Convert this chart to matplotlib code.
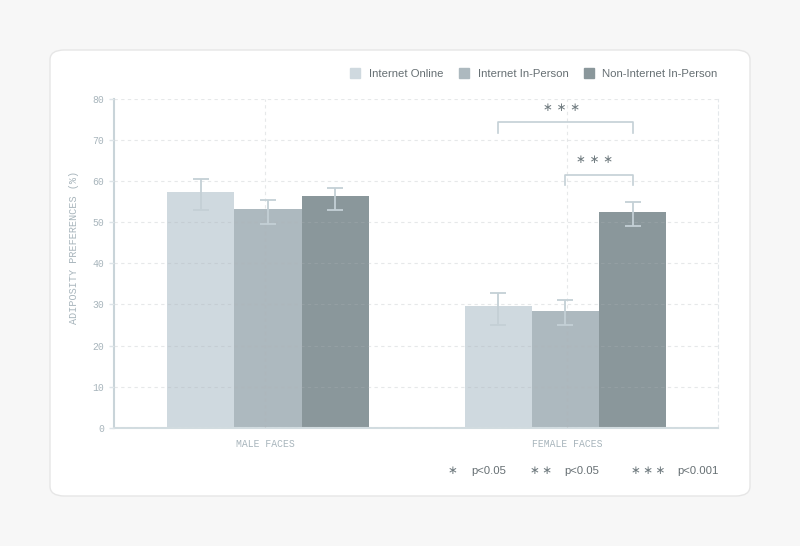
import matplotlib.pyplot as plt
import numpy as np
from matplotlib.patches import FancyBboxPatch
from matplotlib.lines import Line2D

groups = ["MALE FACES", "FEMALE FACES"]
series = ["Internet Online", "Internet In-Person", "Non-Internet In-Person"]
means = [
    [57.4, 29.5],
    [53.3, 28.5],
    [56.5, 52.6],
]
err_lo = [
    [53.1, 24.9],
    [49.5, 25.1],
    [52.9, 49.0],
]
err_hi = [
    [60.5, 32.7],
    [55.3, 31.2],
    [58.3, 55.0],
]
colors = ["#cfd9df", "#adb9bf", "#8a979b"]

# significance brackets: (group, series a, series b, height, label)
brackets = [
    (1, 0, 2, 74.3, "∗ ∗ ∗"),
    (1, 1, 2, 61.6, "∗ ∗ ∗"),
]
sig_notes = [("∗", "p<0.05"), ("∗\u2009∗", "p<0.05"), ("∗\u2009∗\u2009∗", "p<0.001")]

mono = "Liberation Mono"
sans = "Liberation Sans"
axis_col = "#c9d4d9"
tick_col = "#a8b5bc"
star_col = "#6f7a7f"

fig = plt.figure(figsize=(8, 5.46), dpi=100)
fig.patch.set_facecolor("#f7f7f7")
card = FancyBboxPatch((50 / 800, 1 - 496 / 546), 700 / 800, 446 / 546,
                      boxstyle="round,pad=0,rounding_size=0.018",
                      transform=fig.transFigure, facecolor="white",
                      edgecolor="#e6e6e6", linewidth=1.0, zorder=-10)
fig.patches.append(card)

ax = fig.add_axes([114 / 800, 1 - 427.7 / 546, 604 / 800, 328.7 / 546])
ax.set_facecolor("none")
ax.set_zorder(1)

x = np.arange(len(groups))
width = 0.222
shift = [0.01, -0.005]  # bars sit a touch off the category grid line
for i, name in enumerate(series):
    xs = x + np.array(shift) + (i - 1) * width
    m = np.array(means[i])
    lo = m - np.array(err_lo[i])
    hi = np.array(err_hi[i]) - m
    ax.bar(xs, m, width=width, color=colors[i], label=name, zorder=2)
    ax.errorbar(xs, m, yerr=[lo, hi], fmt="none", ecolor="#c4d0d6",
                elinewidth=1.3, capsize=5.5, capthick=1.3, zorder=3)

for g, a, b, h, lab in brackets:
    xa = g + shift[g] + (a - 1) * width
    xb = g + shift[g] + (b - 1) * width
    ax.plot([xa, xa, xb, xb], [h - 2.6, h, h, h - 2.6], color="#c4d0d6",
            lw=1.2, zorder=3, clip_on=False)
    ax.text((xa + xb) / 2 - 0.014, h + 3.6, lab, ha="center", va="center",
            fontsize=8.5, color=star_col, family="DejaVu Sans")

ax.set_xlim(-0.5, 1.5)
ax.set_ylim(0, 80)
ax.set_yticks(np.arange(0, 81, 10))
ax.set_xticks(x)
ax.set_xticklabels(groups, family=mono, fontsize=7, color=tick_col)
ax.tick_params(axis="x", length=0, pad=8)
ax.tick_params(axis="y", length=3.6, width=1, color="#dde4e8", labelsize=7,
               labelcolor=tick_col, pad=3.5)
for lbl in ax.get_yticklabels():
    lbl.set_family(mono)

ax.grid(True, color="#aeb4b8", alpha=0.3, linestyle=(0, (3, 3)),
        linewidth=0.8, zorder=4)
ax.set_axisbelow(False)
ax.spines["top"].set_visible(False)
ax.spines["right"].set_color("#e4e8eb")
ax.spines["right"].set_linestyle((0, (3, 3)))
ax.spines["right"].set_linewidth(0.8)
ax.spines["left"].set_color(axis_col)
ax.spines["left"].set_linewidth(1.5)
ax.spines["bottom"].set_color("#d2dce0")
ax.spines["bottom"].set_linewidth(1.5)

ax.set_ylabel("ADIPOSITY PREFERENCES (%)", family=mono, fontsize=7.3,
              color=tick_col)
ax.yaxis.set_label_coords(-0.058, 0.547)

handles = [Line2D([], [], marker="s", linestyle="none", markersize=7,
                  markerfacecolor=c, markeredgecolor=c) for c in colors]
fig.legend(handles, series, loc="center right", ncol=3, frameon=False,
           bbox_to_anchor=(728 / 800, 1 - 74 / 546), prop={"family": sans, "size": 8.2},
           labelcolor="#666f73", handletextpad=0.7, columnspacing=1.3,
           handlelength=1.0)

# significance key under the chart
star_end = [457, 552, 665]
text_x = [471, 564, 677]
for (st, lab), sx, tx in zip(sig_notes, star_end, text_x):
    fig.text(sx / 800, 1 - 471 / 546, st, ha="right", va="center",
             fontsize=8.5, color=star_col, family="DejaVu Sans")
    fig.text(tx / 800, 1 - 471 / 546, lab, ha="left", va="center",
             fontsize=8.2, color="#666f73", family=sans)

fig.savefig("out.png", dpi=100, facecolor=fig.get_facecolor())
